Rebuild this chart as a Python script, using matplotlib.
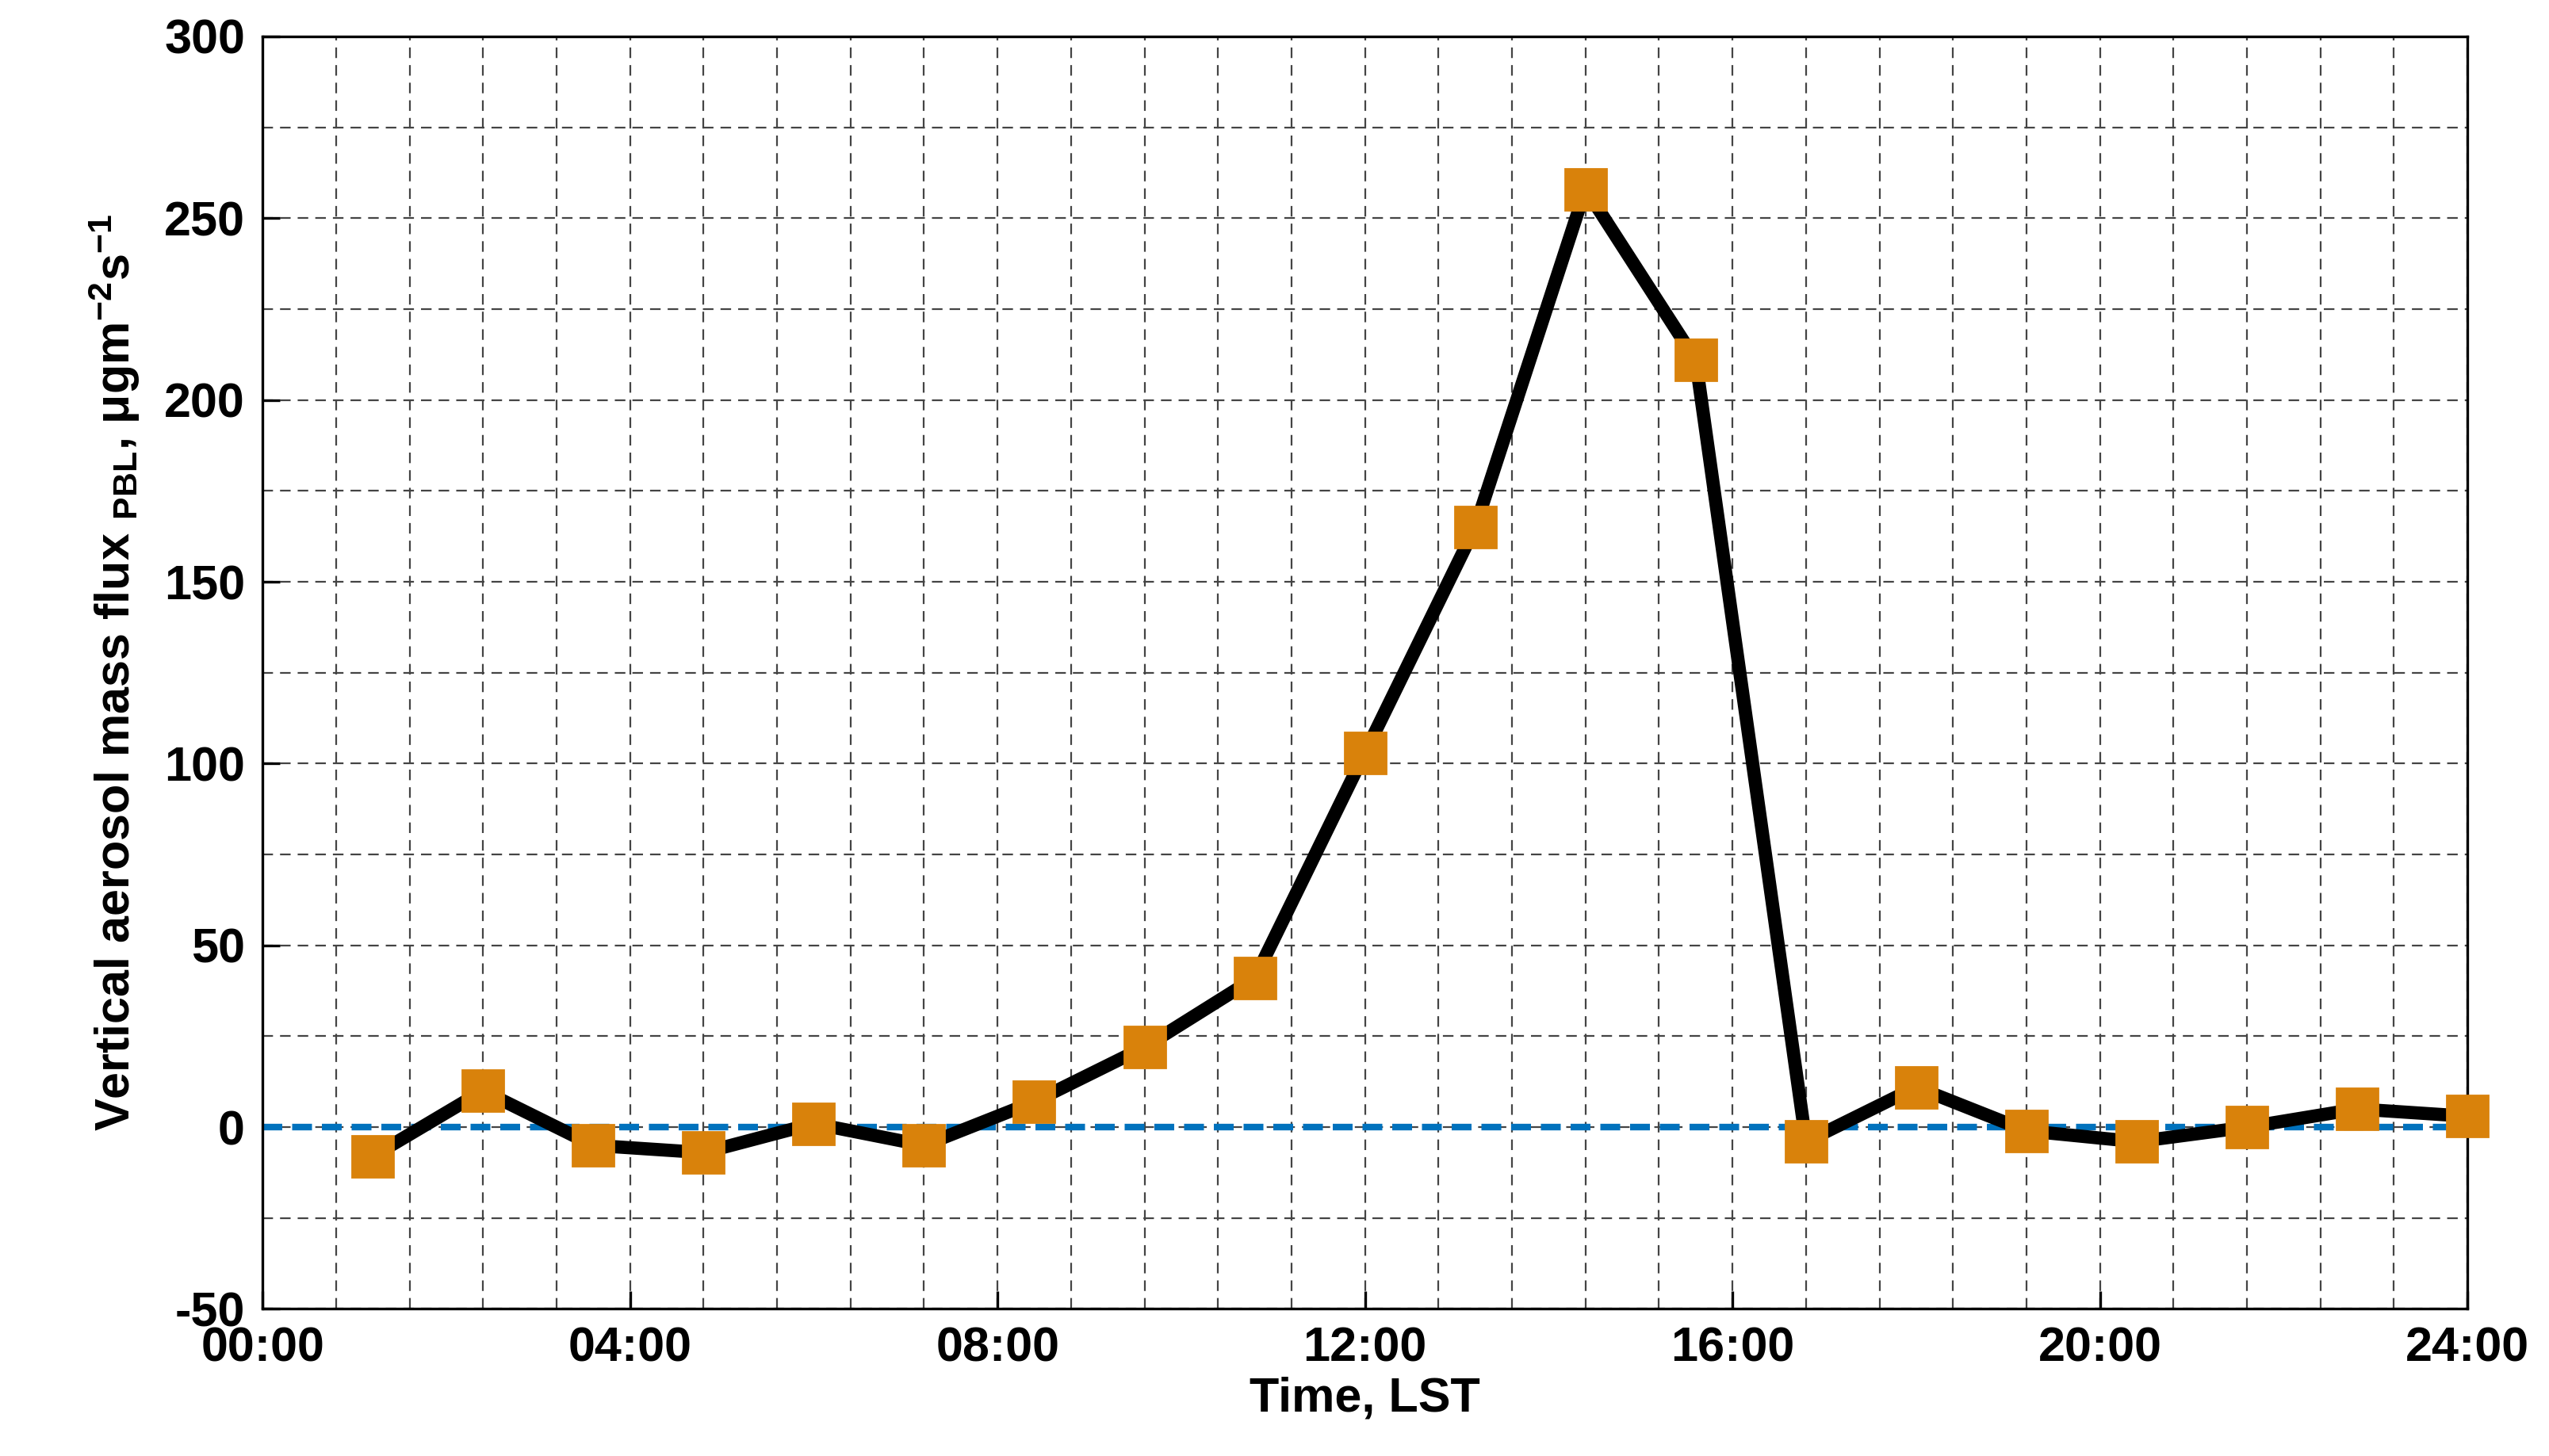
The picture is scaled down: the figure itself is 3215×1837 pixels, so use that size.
import matplotlib
matplotlib.use("Agg")
import matplotlib.pyplot as plt
import numpy as np
from matplotlib.ticker import MultipleLocator

plt.rcParams['font.family'] = ['Liberation Sans', 'DejaVu Sans']
plt.rcParams['axes.unicode_minus'] = False
plt.rcParams['mathtext.fontset'] = 'custom'
plt.rcParams['mathtext.bf'] = 'Liberation Sans:bold'
plt.rcParams['mathtext.rm'] = 'Liberation Sans:bold'

hours = [1.2*i for i in range(1, 21)]
flux = [-8, 10, -5, -7, 1, -5, 7, 22, 41, 103, 165, 258, 211, -4, 11, -1, -4, 0, 5, 3]
xticks = [0, 4, 8, 12, 16, 20, 24]
xlabels = ["00:00", "04:00", "08:00", "12:00", "16:00", "20:00", "24:00"]

fig = plt.figure(figsize=(16.075, 9.185), dpi=200)
ax = fig.add_axes([0.103, 0.101, 0.865, 0.874])
ax.axhline(0, color="#0072BD", lw=3, ls=(0, (3, 1.5)), zorder=2)
ax.plot(hours, flux, color="black", lw=6, marker="s", ms=19,
        mfc="#D9820B", mec="#D9820B", zorder=3, clip_on=False)
ax.set_xlim(0, 24)
ax.set_ylim(-50, 300)
ax.set_xticks(xticks)
ax.set_xticklabels(xlabels)
ax.xaxis.set_minor_locator(MultipleLocator(0.8))
ax.yaxis.set_minor_locator(MultipleLocator(25))
ax.set_yticks(np.arange(-50, 301, 50))
ax.grid(which="both", color="#444444", ls=(0, (6, 4)), lw=0.8)
ax.tick_params(which="both", direction="in", labelsize=22, width=1.2, pad=8)
ax.tick_params(which="major", length=8)
ax.tick_params(which="minor", length=0)
for l in ax.get_xticklabels() + ax.get_yticklabels():
    l.set_fontweight("bold")
ax.set_xlabel("Time, LST", fontsize=22, fontweight="bold", labelpad=2)
ax.set_ylabel(r"Vertical aerosol mass flux $_{\mathbf{PBL}}$, $\mathbf{\mu gm^{-2}s^{-1}}$",
              fontsize=22, fontweight="bold", labelpad=10)
for s in ax.spines.values():
    s.set_linewidth(1.2)
fig.savefig("out.png", dpi=200)
